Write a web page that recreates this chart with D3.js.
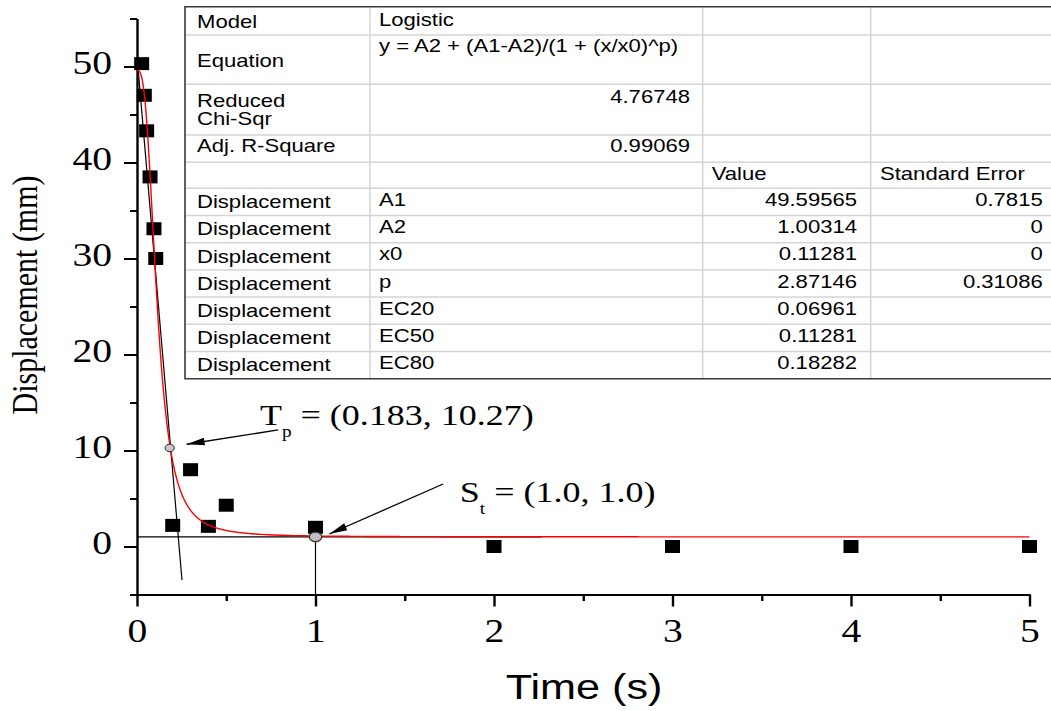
<!DOCTYPE html>
<html>
<head>
<meta charset="utf-8">
<script src="https://cdn.jsdelivr.net/npm/d3@7"></script>
<style>
  html, body { margin: 0; padding: 0; background: #fff; }
  svg { display: block; }
  text { white-space: pre; }
</style>
</head>
<body>
<svg id="chart" width="1051" height="711"></svg>
<script>
// Measured displacement over time
const timeS = [0.026, 0.041, 0.054, 0.073, 0.095, 0.105, 0.2, 0.3, 0.4, 0.5, 1.0, 2, 3, 4, 5];
const displacementMm = [50.3, 47.0, 43.3, 38.5, 33.1, 30.0, 2.2, 8.0, 2.1, 4.3, 2.0, 0, 0, 0, 0];

// Axis ticks
const xMajorTicks = [0, 1, 2, 3, 4, 5];
const xMinorTicks = [0.5, 1.5, 2.5, 3.5, 4.5];
const yMajorTicks = [0, 10, 20, 30, 40, 50];
const yMinorTicks = [-5, 5, 15, 25, 35, 45, 55];

// Logistic fit report
const statLabels = ["Model", "Equation", "Reduced\nChi-Sqr", "Adj. R-Square"];
const statValues = ["Logistic", "y = A2 + (A1-A2)/(1 + (x/x0)^p)", "4.76748", "0.99069"];
const paramHeaders = ["Value", "Standard Error"];
const paramSeries = "Displacement";
const paramNames = ["A1", "A2", "x0", "p", "EC20", "EC50", "EC80"];
const paramValues = [49.59565, 1.00314, 0.11281, 2.87146, 0.06961, 0.11281, 0.18282];
const paramErrors = ["0.7815", "0", "0", "0.31086", "", "", ""];

// Tangent through the turning point and the steady-state marker
const tangentLine = [[0.006, 49.8], [0.252, -3.5]];
const turningPoint = [0.183, 10.27];
const steadyPoint = [1.0, 1.0];
const steadyLineEnd = 2.27;

// ---------------------------------------------------------------
const SX = 1.2; // horizontal glyph stretch used for all lettering
const SERIF = "'Liberation Serif','Times New Roman',serif";
const SANS = "'Liberation Sans',Arial,sans-serif";

const svg = d3.select("#chart");
const x = d3.scaleLinear().domain([0, 5]).range([137, 1029.5]);
const y = d3.scaleLinear().domain([-5, 55]).range([594.5, 18.5]);

const [A1, A2, x0, p] = paramValues;
const logistic = t => A2 + (A1 - A2) / (1 + Math.pow(t / x0, p));

// defs: arrowhead
svg.append("defs").append("marker")
  .attr("id", "arrowhead")
  .attr("markerUnits", "userSpaceOnUse")
  .attr("viewBox", "0 -5 20 10")
  .attr("markerWidth", 19).attr("markerHeight", 9)
  .attr("refX", 20).attr("refY", 0)
  .attr("orient", "auto")
  .append("path").attr("d", "M0,-4.2L20,0L0,4.2Z").attr("fill", "#000");

// ---- axes ----
const xAxis = svg.append("g")
  .attr("transform", `translate(0,${y(-5)})`)
  .call(d3.axisBottom(x).tickValues(xMajorTicks).tickSize(12).tickSizeOuter(0).tickFormat(d3.format("d")));
xAxis.select(".domain").attr("stroke", "#000").attr("stroke-width", 2.2)
  .attr("d", `M${x(0) - 5},0.5H${x(5) + 1}`);
xAxis.selectAll(".tick line").attr("stroke", "#000").attr("stroke-width", 2.4);
xAxis.selectAll(".tick text")
  .attr("y", null).attr("dy", null)
  .attr("transform", `translate(0,${642 - y(-5)}) scale(${SX},1)`)
  .attr("font-family", SERIF).attr("font-size", 33).attr("fill", "#000");

const xMinor = svg.append("g")
  .attr("transform", `translate(0,${y(-5)})`)
  .call(d3.axisBottom(x).tickValues(xMinorTicks).tickSize(6.5).tickSizeOuter(0).tickFormat(() => ""));
xMinor.select(".domain").remove();
xMinor.selectAll(".tick line").attr("stroke", "#000").attr("stroke-width", 2.4);

const yAxis = svg.append("g")
  .attr("transform", `translate(${x(0)},0)`)
  .call(d3.axisLeft(y).tickValues(yMajorTicks).tickSize(13).tickSizeOuter(0));
yAxis.select(".domain").attr("stroke", "#000").attr("stroke-width", 2.4);
yAxis.selectAll(".tick line").attr("stroke", "#000").attr("stroke-width", 2);
yAxis.selectAll(".tick text")
  .attr("x", null).attr("dy", null)
  .attr("transform", `translate(-25,7) scale(${SX},1)`)
  .attr("font-family", SERIF).attr("font-size", 33).attr("fill", "#000");

const yMinor = svg.append("g")
  .attr("transform", `translate(${x(0)},0)`)
  .call(d3.axisLeft(y).tickValues(yMinorTicks).tickSize(7).tickSizeOuter(0).tickFormat(() => ""));
yMinor.select(".domain").remove();
yMinor.selectAll(".tick line").attr("stroke", "#000").attr("stroke-width", 2);

// axis titles
svg.append("text")
  .attr("transform", `translate(584,699) scale(${SX},1)`)
  .attr("text-anchor", "middle")
  .attr("font-family", SANS).attr("font-size", 36).attr("fill", "#000")
  .text("Time (s)");

svg.append("text")
  .attr("transform", `translate(37,295) scale(${SX},1) rotate(-90)`)
  .attr("text-anchor", "middle")
  .attr("font-family", SERIF).attr("font-size", 30).attr("fill", "#000")
  .text("Displacement (mm)");

// ---- guide lines ----
const line = d3.line().x(d => x(d[0])).y(d => y(d[1]));
svg.append("path").datum(tangentLine)
  .attr("d", line).attr("fill", "none").attr("stroke", "#000").attr("stroke-width", 1.2);
svg.append("path").datum([[0, steadyPoint[1]], [steadyLineEnd, steadyPoint[1]]])
  .attr("d", line).attr("fill", "none").attr("stroke", "#000").attr("stroke-width", 1.2);
svg.append("path").datum([[steadyPoint[0], steadyPoint[1]], [steadyPoint[0], -5]])
  .attr("d", line).attr("fill", "none").attr("stroke", "#000").attr("stroke-width", 1.2);

// ---- measured points ----
const pts = timeS.map((t, i) => [t, displacementMm[i]]);
svg.append("g").selectAll("rect").data(pts).join("rect")
  .attr("x", d => x(d[0]) - 7.5).attr("y", d => y(d[1]) - 6.5)
  .attr("width", 15).attr("height", 13).attr("fill", "#000");

// ---- fitted logistic curve ----
const fitX = d3.range(0, 0.6, 0.002).concat(d3.range(0.6, 5.0001, 0.02));
svg.append("path").datum(fitX.map(t => [t, logistic(t)]))
  .attr("d", line).attr("fill", "none").attr("stroke", "#ff0000").attr("stroke-width", 1.4);

// ---- key points ----
svg.append("ellipse")
  .attr("cx", x(turningPoint[0])).attr("cy", y(turningPoint[1]))
  .attr("rx", 4.6).attr("ry", 3.8)
  .attr("fill", "#c8c8c8").attr("stroke", "#222").attr("stroke-width", 1);
svg.append("ellipse")
  .attr("cx", x(steadyPoint[0])).attr("cy", y(steadyPoint[1]))
  .attr("rx", 6.2).attr("ry", 4.8)
  .attr("fill", "#c0c0c0").attr("stroke", "#333").attr("stroke-width", 1.2);

// ---- annotations ----
const annotations = [
  { main: "T", sub: "p", rest: ` = (${turningPoint[0]}, ${turningPoint[1]})`,
    at: [0.689, 12.66], tail: [0.791, 12.14], tip: [0.278, 10.65] },
  { main: "S", sub: "t", rest: ` = (${steadyPoint[0].toFixed(1)}, ${steadyPoint[1].toFixed(1)})`,
    at: [1.8085, 4.667], tail: [1.715, 6.51], tip: [1.077, 1.30] }
];
annotations.forEach(a => {
  svg.append("line")
    .attr("x1", x(a.tail[0])).attr("y1", y(a.tail[1]))
    .attr("x2", x(a.tip[0])).attr("y2", y(a.tip[1]))
    .attr("stroke", "#000").attr("stroke-width", 1.3)
    .attr("marker-end", "url(#arrowhead)");
  const t = svg.append("text")
    .attr("transform", `translate(${x(a.at[0])},${y(a.at[1])}) scale(${SX},1)`)
    .attr("font-family", SERIF).attr("font-size", 30).attr("fill", "#000");
  t.append("tspan").text(a.main);
  t.append("tspan").attr("font-size", 16).attr("dy", 12).text(a.sub);
  t.append("tspan").attr("dy", -12).text(a.rest);
});

// ---- fit report table ----
const colX = [185, 370, 702.7, 870.7, 1060];
const rowY = [6.7, 35, 84.3, 135, 162.3, 188.3, 215.5, 242.7, 269.9, 297.1, 324.3, 351.5, 378.7];
const table = svg.append("g");
table.append("rect")
  .attr("x", colX[0]).attr("y", rowY[0])
  .attr("width", colX[4] - colX[0]).attr("height", rowY[12] - rowY[0])
  .attr("fill", "#fff");
table.selectAll("line.h").data(rowY.slice(1, 12)).join("line")
  .attr("x1", colX[0]).attr("x2", colX[4]).attr("y1", d => d).attr("y2", d => d)
  .attr("stroke", "#d4d4d4").attr("stroke-width", 1.5);
table.selectAll("line.v").data(colX.slice(1, 4)).join("line")
  .attr("x1", d => d).attr("x2", d => d).attr("y1", rowY[0]).attr("y2", rowY[12])
  .attr("stroke", "#d4d4d4").attr("stroke-width", 1.5);
table.append("path")
  .attr("d", `M${colX[4]},${rowY[0]}H${colX[0]}V${rowY[12]}H${colX[4]}`)
  .attr("fill", "none").attr("stroke", "#3a3a3a").attr("stroke-width", 1.6);

function cell(px, py, str, anchor) {
  table.append("text")
    .attr("transform", `translate(${px},${py}) scale(${SX},1)`)
    .attr("text-anchor", anchor || "start")
    .attr("font-family", SANS).attr("font-size", 18.4).attr("fill", "#000")
    .text(str);
}

// statistics block
const statLabelBase = [[28], [66.7], [106.5, 124.5], [151.5]];
const statValueBase = [25.5, 52, 103, 151.5];
statLabels.forEach((lab, i) => {
  lab.split("\n").forEach((ln, j) => cell(197, statLabelBase[i][j], ln));
  const numeric = i >= 2;
  cell(numeric ? 690 : 379, statValueBase[i], statValues[i], numeric ? "end" : "start");
});
cell(711.7, 180, paramHeaders[0]);
cell(880, 180, paramHeaders[1]);

// parameter block
const fmt = d3.format(".5f");
paramNames.forEach((nm, i) => {
  const base = 206 + 27.2 * i;
  cell(197, base + 2.2, paramSeries);
  cell(379, base, nm);
  cell(857, base, fmt(paramValues[i]), "end");
  if (paramErrors[i]) cell(1042.7, base, paramErrors[i], "end");
});
</script>
</body>
</html>
